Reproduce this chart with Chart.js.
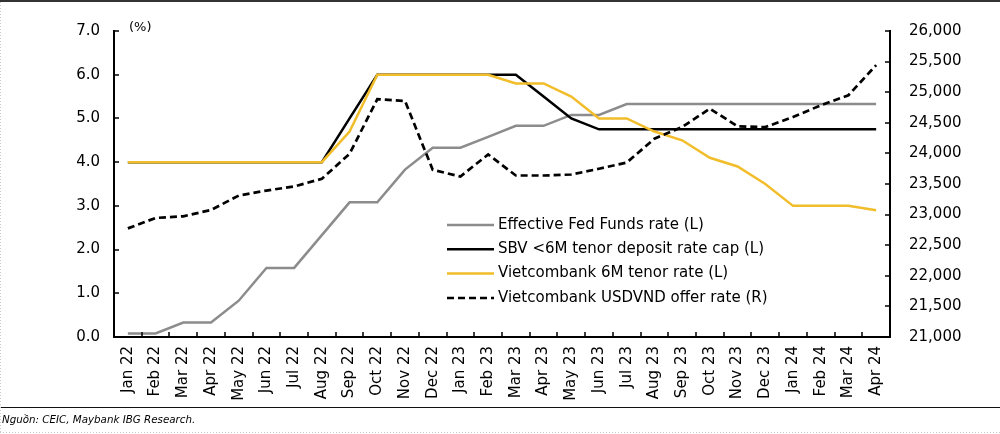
<!DOCTYPE html>
<html><head><meta charset="utf-8">
<script src="https://cdn.jsdelivr.net/npm/chart.js@4.4.0/dist/chart.umd.min.js"></script>
<style>
html,body{margin:0;padding:0;background:#fff;}
#wrap{position:relative;width:1000px;height:434px;}
canvas{display:block;}
</style></head>
<body><div id="wrap"><canvas id="c" width="1000" height="434"></canvas></div>
<script>
const months = ["Jan 22","Feb 22","Mar 22","Apr 22","May 22","Jun 22","Jul 22","Aug 22","Sep 22","Oct 22","Nov 22","Dec 22",
"Jan 23","Feb 23","Mar 23","Apr 23","May 23","Jun 23","Jul 23","Aug 23","Sep 23","Oct 23","Nov 23","Dec 23",
"Jan 24","Feb 24","Mar 24","Apr 24"];
const fedFunds = [0.08,0.08,0.33,0.33,0.83,1.58,1.58,2.33,3.08,3.08,3.83,4.33,4.33,4.58,4.83,4.83,5.08,5.08,5.33,5.33,5.33,5.33,5.33,5.33,5.33,5.33,5.33,5.33];
const sbvCap = [4.0,4.0,4.0,4.0,4.0,4.0,4.0,4.0,5.0,6.0,6.0,6.0,6.0,6.0,6.0,5.5,5.0,4.75,4.75,4.75,4.75,4.75,4.75,4.75,4.75,4.75,4.75,4.75];
const vcb6m = [4.0,4.0,4.0,4.0,4.0,4.0,4.0,4.0,4.7,6.0,6.0,6.0,6.0,6.0,5.8,5.8,5.5,5.0,5.0,4.7,4.5,4.1,3.9,3.5,3.0,3.0,3.0,2.9];
const usdvnd = [22775,22945,22972,23076,23311,23393,23460,23585,23994,24885,24857,23732,23622,23983,23639,23639,23655,23749,23850,24240,24430,24732,24442,24430,24594,24786,24950,25442];
const leftTicks = [0,1,2,3,4,5,6,7];
const rightTicks = [21000,21500,22000,22500,23000,23500,24000,24500,25000,25500,26000];
const labels = ["Effective Fed Funds rate (L)","SBV <6M tenor deposit rate cap (L)","Vietcombank 6M tenor rate (L)","Vietcombank USDVND offer rate (R)"];

const FONT = "'DejaVu Sans', Verdana, sans-serif";
const YEL = '#f2bd2a';

const decor = {
  id:'decor',
  afterDraw(chart){
    const ctx = chart.ctx, ca = chart.chartArea;
    const yl = chart.scales.yL, yr = chart.scales.yR;
    ctx.save();
    ctx.strokeStyle = '#000'; ctx.lineWidth = 2; ctx.lineCap='butt';
    ctx.beginPath();
    ctx.moveTo(ca.left, ca.top-1); ctx.lineTo(ca.left, ca.bottom+1);
    ctx.moveTo(ca.left-1, ca.bottom); ctx.lineTo(ca.right+1, ca.bottom);
    ctx.moveTo(ca.right, ca.top-1); ctx.lineTo(ca.right, ca.bottom+1);
    ctx.stroke();
    ctx.lineWidth = 1.5;
    ctx.beginPath();
    leftTicks.forEach(v=>{const p=Math.round(yl.getPixelForValue(v)); ctx.moveTo(ca.left, p); ctx.lineTo(ca.left+5, p);});
    rightTicks.forEach(v=>{const p=Math.round(yr.getPixelForValue(v)); ctx.moveTo(ca.right, p); ctx.lineTo(ca.right-5, p);});
    const n = months.length, w = (ca.right-ca.left)/n;
    for(let i=1;i<n;i++){const p=Math.round(ca.left+w*i); ctx.moveTo(p, ca.bottom); ctx.lineTo(p, ca.bottom-5);}
    ctx.stroke();
    ctx.fillStyle='#000'; ctx.font = '13px '+FONT; ctx.textBaseline='middle'; ctx.textAlign='left';
    ctx.fillText('(%)', ca.left+15, ca.top-3);
    const ds = chart.data.datasets;
    const lx = 447, ly0 = 225, dy = 24.3;
    ctx.font = '15px '+FONT;
    ds.forEach((d,i)=>{
      const yy = ly0 + i*dy;
      ctx.beginPath();
      ctx.strokeStyle = d.borderColor; ctx.lineWidth = 2.5;
      ctx.setLineDash(d.borderDash || []);
      ctx.moveTo(lx, yy); ctx.lineTo(lx+47, yy); ctx.stroke();
      ctx.setLineDash([]);
      ctx.fillStyle = '#000';
      ctx.fillText(d.label, lx+51, yy);
    });
    ctx.strokeStyle='#333'; ctx.lineWidth=2;
    ctx.beginPath(); ctx.moveTo(0,1); ctx.lineTo(1000,1); ctx.stroke();
    ctx.strokeStyle='#111'; ctx.lineWidth=1.2;
    ctx.beginPath(); ctx.moveTo(0,407.5); ctx.lineTo(1000,407.5); ctx.stroke();
    ctx.strokeStyle='#ccc'; ctx.lineWidth=1; ctx.setLineDash([1,2]);
    ctx.beginPath(); ctx.moveTo(0.5,2); ctx.lineTo(0.5,434); ctx.stroke();
    ctx.beginPath(); ctx.moveTo(0,432.5); ctx.lineTo(1000,432.5); ctx.stroke();
    ctx.setLineDash([]);
    ctx.fillStyle='#000'; ctx.font='italic 10.3px '+FONT; ctx.textAlign='left';
    ctx.fillText('Nguồn: CEIC, Maybank IBG Research.', 2, 420);
    ctx.restore();
  }
};

new Chart(document.getElementById('c'), {
  type:'line',
  data:{
    labels: months,
    datasets:[
      {label:labels[0], data:fedFunds, yAxisID:'yL', borderColor:'#8c8c8c', borderWidth:2.5, pointRadius:0, tension:0, order:4},
      {label:labels[1], data:sbvCap, yAxisID:'yL', borderColor:'#000000', borderWidth:2.5, pointRadius:0, tension:0, order:3},
      {label:labels[2], data:vcb6m, yAxisID:'yL', borderColor:YEL, borderWidth:2.5, pointRadius:0, tension:0, order:2},
      {label:labels[3], data:usdvnd, yAxisID:'yR', borderColor:'#000000', borderWidth:2.7, borderDash:[7,4], pointRadius:0, tension:0, order:1}
    ]
  },
  options:{
    responsive:false, animation:false, maintainAspectRatio:false,
    layout:{padding:{top:31, bottom:27, left:0, right:0}},
    plugins:{legend:{display:false}, tooltip:{enabled:false}},
    scales:{
      x:{
        offset:true,
        grid:{display:false, drawTicks:false},
        border:{display:false},
        ticks:{color:'#000', font:{family:FONT, size:15}, minRotation:90, maxRotation:90, autoSkip:false, padding:9},
        afterFit(s){ s.height = 70; }
      },
      yL:{
        position:'left', min:0, max:7,
        afterBuildTicks(s){ s.ticks = leftTicks.map(v=>({value:v})); },
        grid:{display:false, drawTicks:false},
        border:{display:false},
        ticks:{color:'#000', font:{family:FONT, size:15}, padding:14, callback:v=>Number(v).toFixed(1)},
        afterFit(s){ s.width = 114; }
      },
      yR:{
        position:'right', min:21000, max:26000,
        afterBuildTicks(s){ s.ticks = rightTicks.map(v=>({value:v})); },
        grid:{display:false, drawTicks:false},
        border:{display:false},
        ticks:{color:'#000', font:{family:FONT, size:15}, padding:19, callback:v=>Number(v).toLocaleString('en-US')},
        afterFit(s){ s.width = 110; }
      }
    }
  },
  plugins:[decor]
});
</script>
</body></html>
